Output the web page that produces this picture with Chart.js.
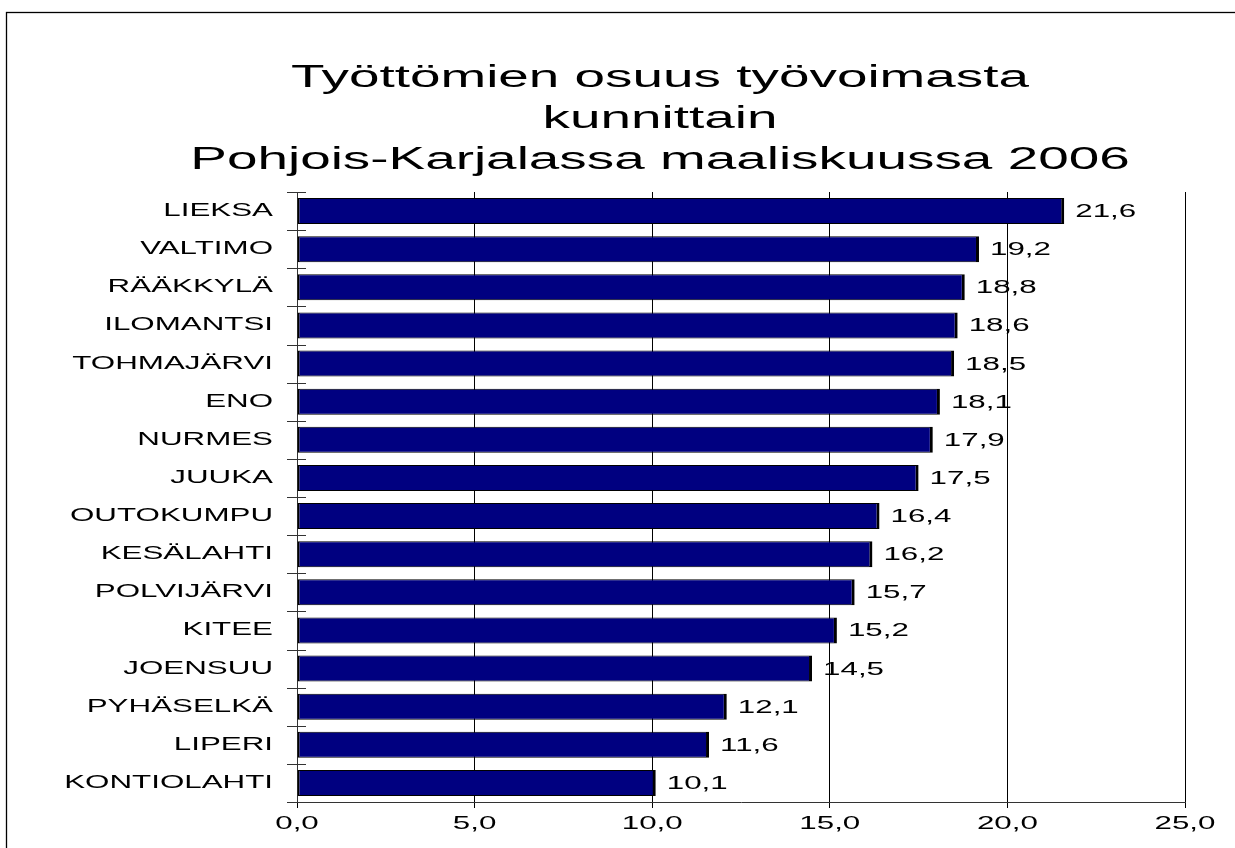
<!DOCTYPE html>
<html>
<head>
<meta charset="utf-8">
<script src="https://cdn.jsdelivr.net/npm/chart.js@4/dist/chart.umd.min.js"></script>
<style>
  html, body { margin: 0; padding: 0; background: #fff; }
  canvas { display: block; }
</style>
</head>
<body>
<canvas id="c" width="1235" height="848"></canvas>
<script>
// ---- data ----
const titleLines = ["Työttömien osuus työvoimasta", "kunnittain", "Pohjois-Karjalassa maaliskuussa 2006"];
const categories = ["LIEKSA", "VALTIMO", "RÄÄKKYLÄ", "ILOMANTSI", "TOHMAJÄRVI", "ENO", "NURMES", "JUUKA",
                    "OUTOKUMPU", "KESÄLAHTI", "POLVIJÄRVI", "KITEE", "JOENSUU", "PYHÄSELKÄ", "LIPERI", "KONTIOLAHTI"];
const values = [21.6, 19.2, 18.8, 18.6, 18.5, 18.1, 17.9, 17.5, 16.4, 16.2, 15.7, 15.2, 14.5, 12.1, 11.6, 10.1];
const axisMin = 0;
const axisMax = 25;
const axisStep = 5;

const fmt = v => Number(v).toFixed(1).replace('.', ',');
const FONT = '"Liberation Sans", Arial, sans-serif';

const canvas = document.getElementById('c');
const ctx = canvas.getContext('2d');
// the reference text is horizontally stretched; emulate by scaling each text draw around its anchor
const protoFill = CanvasRenderingContext2D.prototype.fillText;
ctx.fillText = function (text, x, y, maxWidth) {
  const m = /(\d+(?:\.\d+)?)px/.exec(this.font);
  const size = m ? parseFloat(m[1]) : 12;
  const sx = size >= 25 ? 1.77 : 1.74;
  this.save();
  this.translate(x, y);
  this.scale(sx, 1);
  if (maxWidth !== undefined && maxWidth !== null) protoFill.call(this, text, 0, 0, maxWidth / sx);
  else protoFill.call(this, text, 0, 0);
  this.restore();
};

const framePlugin = {
  id: 'frame',
  beforeDraw(chart) {
    const c = chart.ctx;
    c.save();
    c.fillStyle = '#fff';
    c.fillRect(0, 0, chart.width, chart.height);
    c.strokeStyle = '#000';
    c.lineWidth = 1.3;
    c.strokeRect(6.5, 12.5, 1400, 1000);
    c.restore();
  }
};

const titlePlugin = {
  id: 'stretchedTitle',
  afterDraw(chart) {
    const c = chart.ctx;
    c.save();
    c.font = '31px ' + FONT;
    c.fillStyle = '#000';
    c.textAlign = 'center';
    c.textBaseline = 'alphabetic';
    const baselines = [87, 128, 169];
    titleLines.forEach((t, i) => c.fillText(t, 660, baselines[i]));
    c.restore();
  }
};

const yTickPlugin = {
  id: 'yTicks',
  afterDraw(chart) {
    const c = chart.ctx;
    const a = chart.chartArea;
    const n = categories.length;
    const step = (a.bottom - a.top) / n;
    c.save();
    c.strokeStyle = '#333';
    c.lineWidth = 1;
    for (let k = 0; k <= n; k++) {
      const y = Math.round(a.top + k * step) + 0.5;
      c.beginPath();
      c.moveTo(a.left - 10, y);
      c.lineTo(a.left + 9, y);
      c.stroke();
    }
    c.restore();
  }
};

const labelPlugin = {
  id: 'valueLabels',
  afterDatasetsDraw(chart) {
    const c = chart.ctx;
    const meta = chart.getDatasetMeta(0);
    c.save();
    c.font = '18px ' + FONT;
    c.fillStyle = '#000';
    c.textAlign = 'left';
    c.textBaseline = 'middle';
    meta.data.forEach((bar, i) => {
      c.fillText(fmt(values[i]), bar.x + 11, bar.y + 1);
    });
    c.restore();
  }
};

new Chart(ctx, {
  type: 'bar',
  data: {
    labels: categories,
    datasets: [{
      data: values,
      backgroundColor: '#000080',
      borderColor: '#000',
      borderWidth: { top: 1, bottom: 1, left: 2, right: 3 },
      borderSkipped: false,
      barPercentage: 0.68,
      categoryPercentage: 1.0
    }]
  },
  options: {
    indexAxis: 'y',
    responsive: false,
    animation: false,
    devicePixelRatio: 1,
    layout: { padding: { top: 192, right: 50, left: 0, bottom: 0 } },
    plugins: {
      legend: { display: false },
      title: { display: false },
      tooltip: { enabled: false }
    },
    scales: {
      x: {
        type: 'linear',
        min: axisMin,
        max: axisMax,
        ticks: {
          stepSize: axisStep,
          callback: v => fmt(v),
          font: { family: FONT, size: 18 },
          color: '#000',
          padding: 5,
          maxRotation: 0
        },
        grid: { color: '#000', lineWidth: 1, tickLength: 6, drawOnChartArea: true },
        border: { display: true, color: '#333', width: 1 },
        afterFit(scale) { scale.height = 46; }
      },
      y: {
        type: 'category',
        ticks: {
          font: { family: FONT, size: 18 },
          color: '#000',
          padding: 24,
          autoSkip: false
        },
        grid: { display: false, offset: true, tickLength: 0 },
        border: { display: true, color: '#333', width: 1 },
        afterFit(scale) { scale.width = 297; }
      }
    }
  },
  plugins: [framePlugin, titlePlugin, yTickPlugin, labelPlugin]
});
</script>
</body>
</html>
